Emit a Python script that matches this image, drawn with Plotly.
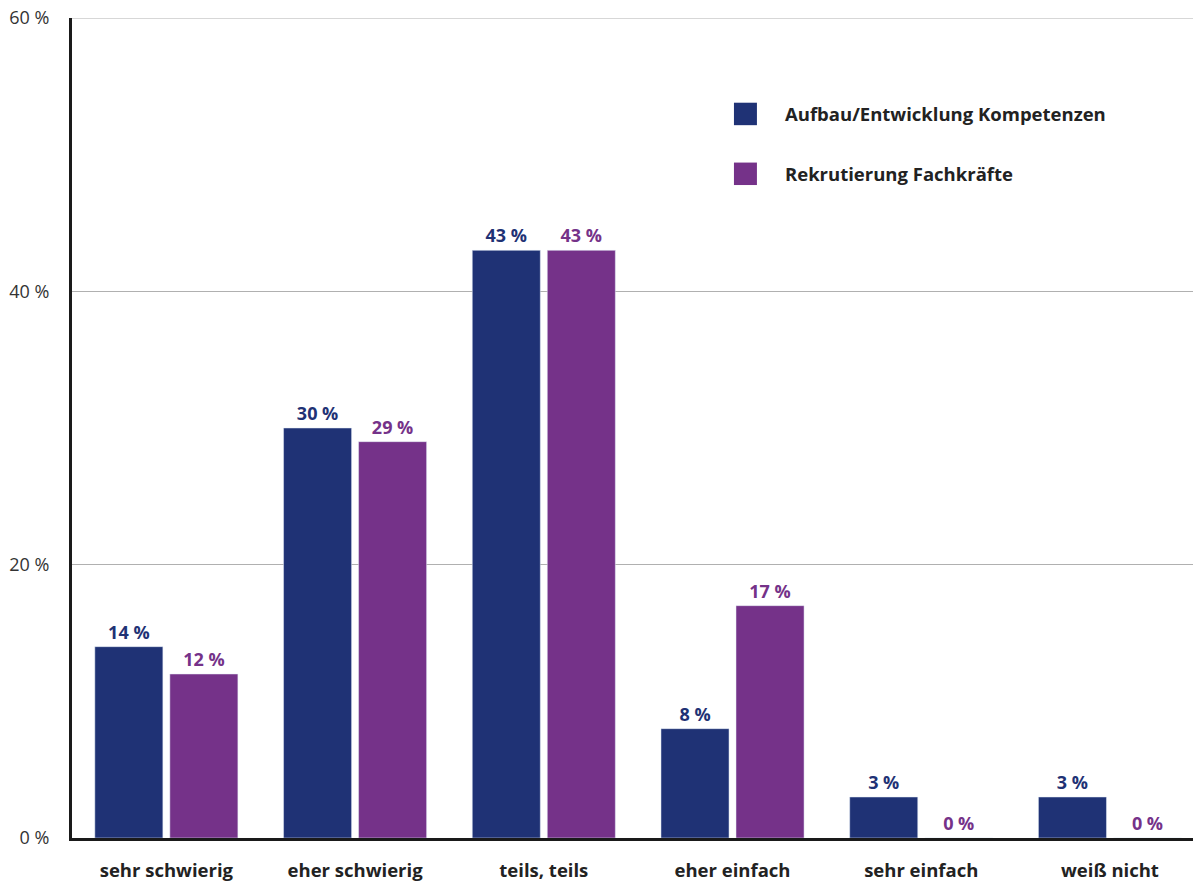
import plotly.graph_objects as go

categories = ["sehr schwierig", "eher schwierig", "teils, teils", "eher einfach", "sehr einfach", "weiß nicht"]
kompetenzen = [14, 30, 43, 8, 3, 3]
fachkraefte = [12, 29, 43, 17, 0, 0]
series_names = ["Aufbau/Entwicklung Kompetenzen", "Rekrutierung Fachkräfte"]
colors = ["#1f3275", "#753289"]
y_ticks = [0, 20, 40, 60]
y_ticktext = [f"{v} %" for v in y_ticks]

FONT = "Open Sans"

fig = go.Figure()
for name, vals, col in zip(series_names, [kompetenzen, fachkraefte], colors):
    fig.add_trace(go.Bar(
        x=categories, y=vals, name=name, marker_color=col,
        text=vals, texttemplate="%{text} %", textposition="outside",
        textfont=dict(family=FONT, size=18, color=col, weight="bold"),
        cliponaxis=False, showlegend=False,
    ))

# top gridline (plotly drops gridlines at the range edge)
fig.add_shape(type="line", xref="paper", yref="y", x0=0, x1=1,
              y0=y_ticks[-1], y1=y_ticks[-1], line=dict(color="#b0b0b0", width=1))

# custom legend (large square swatches)
leg_y = [0.883, 0.810]
for name, col, yy in zip(series_names, colors, leg_y):
    fig.add_shape(type="rect", xref="paper", yref="paper",
                  x0=0.5905, x1=0.611, y0=yy - 0.0137, y1=yy + 0.0137,
                  fillcolor=col, line_width=0)
    fig.add_annotation(xref="paper", yref="paper", x=0.634, y=yy,
                       text=name, showarrow=False, xanchor="left", yanchor="middle",
                       font=dict(family=FONT, size=18.5, color="#222222", weight="bold"))

fig.update_layout(
    width=1193, height=881,
    margin=dict(l=72, r=0, t=18, b=43),
    plot_bgcolor="white", paper_bgcolor="white",
    barmode="group", bargap=0.205, bargroupgap=0.093,
    font=dict(family=FONT, color="#222222"),
    showlegend=False,
)
fig.update_yaxes(
    range=[0, 60], tickvals=y_ticks, ticktext=y_ticktext,
    showgrid=True, gridcolor="#b0b0b0", gridwidth=1,
    showline=True, linecolor="#1a1a1a", linewidth=3,
    tickfont=dict(family=FONT, size=18, color="#333333"),
    ticklabelstandoff=16, zeroline=False,
)
fig.update_xaxes(
    range=[-0.5, 5.44],
    showline=True, linecolor="#1a1a1a", linewidth=3,
    tickfont=dict(family=FONT, size=18.5, color="#222222", weight="bold"),
    ticklabelstandoff=14,
)

fig.write_html("out.html", config={"displayModeBar": False},
               post_script="document.body.style.margin='0';document.body.style.overflow='hidden';")
